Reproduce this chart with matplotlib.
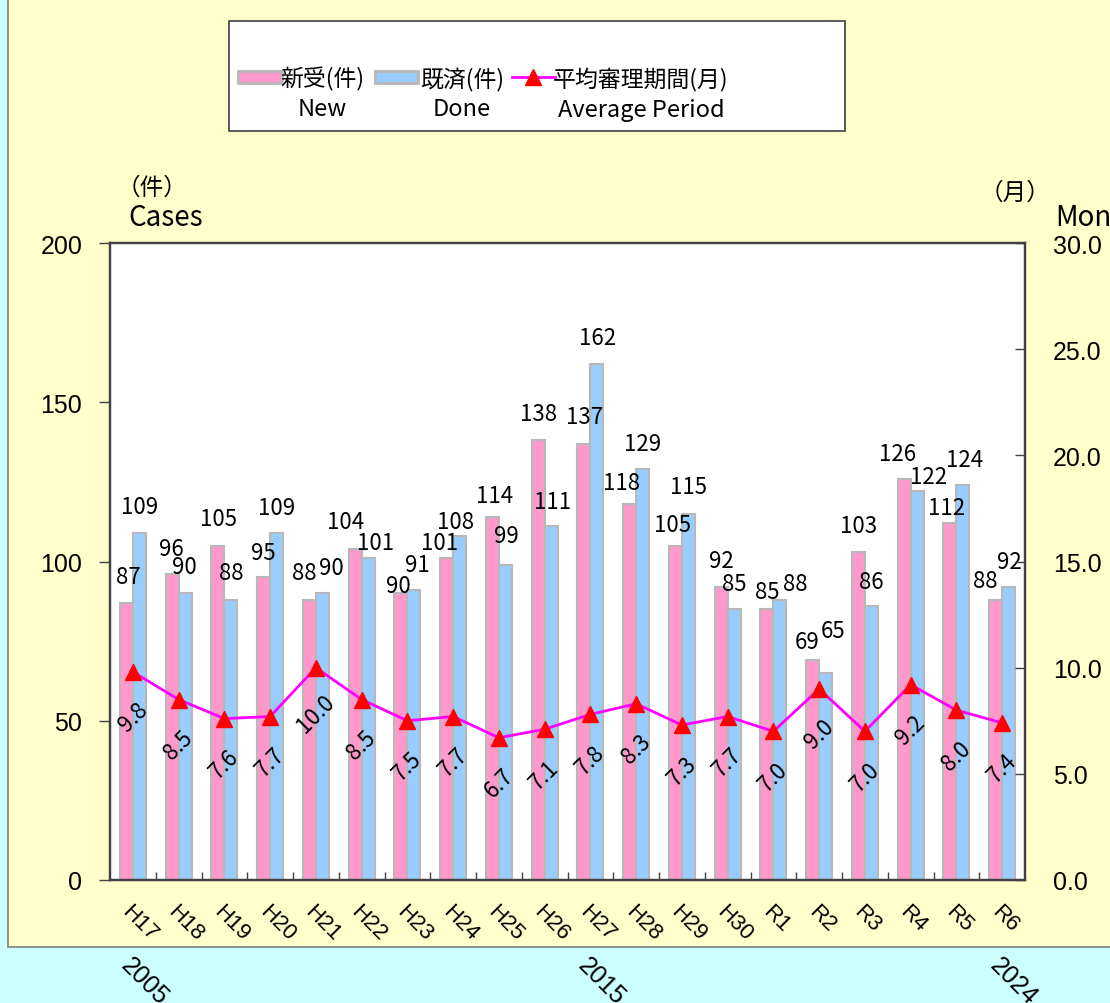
import matplotlib
matplotlib.use("Agg")
from matplotlib import pyplot as plt
from matplotlib.patches import Rectangle
from matplotlib.lines import Line2D
from matplotlib.ticker import FormatStrFormatter, FixedLocator
import numpy as np

years = ['H17', 'H18', 'H19', 'H20', 'H21', 'H22', 'H23', 'H24', 'H25', 'H26',
         'H27', 'H28', 'H29', 'H30', 'R1', 'R2', 'R3', 'R4', 'R5', 'R6']
new_cases = [87, 96, 105, 95, 88, 104, 90, 101, 114, 138,
             137, 118, 105, 92, 85, 69, 103, 126, 112, 88]
done_cases = [109, 90, 88, 109, 90, 101, 91, 108, 99, 111,
              162, 129, 115, 85, 88, 65, 86, 122, 124, 92]
avg_period = [9.8, 8.5, 7.6, 7.7, 10.0, 8.5, 7.5, 7.7, 6.7, 7.1,
              7.8, 8.3, 7.3, 7.7, 7.0, 9.0, 7.0, 9.2, 8.0, 7.4]
year_marks = [(0, '2005'), (10, '2015'), (19, '2024')]

# label nudges in pixels (dx, dy) so close labels don't collide, like the original
new_off = [(2, 26), (-1, 26), (1, 27), (0, 25), (-5, 27), (-9, 27), (-2, 8), (-7, 16),
           (2, 21), (0, 27), (1, 27), (-8, 22), (-3, 21), (0, 26), (0, 18), (-5, 19),
           (0, 26), (-7, 25), (-3, 16), (-10, 19)]
done_off = [(0, 26), (-1, 27), (0, 27), (0, 25), (9, 26), (7, 16), (3, 26), (-4, 15),
            (1, 29), (1, 25), (1, 27), (0, 26), (0, 27), (0, 26), (15, 16), (7, 42),
            (0, 25), (11, 15), (2, 26), (1, 25)]

W, H = 1110, 1004
JP = ['Noto Sans CJK JP', 'DejaVu Sans']
NUM = ['Liberation Sans', 'DejaVu Sans']
PINK = '#FF99CC'
BLUE = '#99CCFF'
EDGE = '#B8B8B8'


def fx(x):
    return x / W


def fy(y):
    return 1 - y / H


fig = plt.figure(figsize=(W / 100, H / 100), dpi=100)
fig.patch.set_facecolor('#CCFFFF')

# yellow panel behind the chart
panel = Rectangle((fx(8), fy(948)), 1.5, 1.5, transform=fig.transFigure,
                  facecolor='#FFFFCC', edgecolor='#7F7F7F', lw=1.2, zorder=-10)
fig.add_artist(panel)

ax = fig.add_axes([fx(110), fy(881), fx(1025) - fx(110), fy(244) - fy(881)])
ax.set_facecolor('white')
x = np.arange(len(years))
bw = 0.285
ax.bar(x - bw / 2, new_cases, bw, color=PINK, edgecolor=EDGE, lw=1.5, zorder=2)
ax.bar(x + bw / 2, done_cases, bw, color=BLUE, edgecolor=EDGE, lw=1.5, zorder=2)

for i in range(len(years)):
    ax.annotate(str(new_cases[i]), (x[i] - bw / 2, new_cases[i]), xytext=new_off[i],
                textcoords='offset pixels', ha='center', va='center',
                fontsize=16, family=JP, zorder=5)
    ax.annotate(str(done_cases[i]), (x[i] + bw / 2, done_cases[i]), xytext=done_off[i],
                textcoords='offset pixels', ha='center', va='center',
                fontsize=16, family=JP, zorder=5)

ax.set_xlim(-0.5, len(years) - 0.5)
ax.set_ylim(0, 200)
ax.set_yticks([0, 50, 100, 150, 200])
ax.tick_params(axis='y', direction='out', length=8, width=1, pad=12,
               labelsize=18, color='#404040')
for t in ax.get_yticklabels():
    t.set_family(NUM)
ax.set_xticks(x)
ax.set_xticklabels(years, rotation=-45, rotation_mode='anchor', ha='left', va='top',
                   fontsize=16, family=NUM)
ax.tick_params(axis='x', which='major', length=0, pad=15)
ax.xaxis.set_minor_locator(FixedLocator(np.arange(0.5, len(years) - 1, 1.0)))
ax.tick_params(axis='x', which='minor', direction='in', length=6, width=1, color='#404040')
for s in ax.spines.values():
    s.set_color('#404040')
    s.set_linewidth(1.6)

ax2 = ax.twinx()
ax2.plot(x, avg_period, color='#FF00FF', lw=2, marker='^', markersize=11,
         markerfacecolor='#FF0000', markeredgecolor='#FF0000', zorder=4)
for i in range(len(years)):
    ax2.annotate(f'{avg_period[i]:.1f}', (x[i], avg_period[i]), xytext=(0, -45),
                 textcoords='offset pixels', ha='center', va='center', rotation=45,
                 fontsize=16, family=JP, zorder=5)
ax2.set_ylim(0, 30)
ax2.set_yticks([0, 5, 10, 15, 20, 25, 30])
ax2.yaxis.set_major_formatter(FormatStrFormatter('%.1f'))
ax2.tick_params(axis='y', direction='in', length=7, width=1, pad=20,
                labelsize=18, color='#404040')
for t in ax2.get_yticklabels():
    t.set_family(NUM)
for s in ax2.spines.values():
    s.set_color('#404040')
    s.set_linewidth(1.6)

# axis titles
fig.text(fx(152), fy(188), '（件）', ha='center', va='center', fontsize=17, family=JP)
fig.text(fx(128), fy(218), 'Cases', ha='left', va='center', fontsize=20, family=JP)
fig.text(fx(1015), fy(193), '（月）', ha='center', va='center', fontsize=17, family=JP)
fig.text(fx(1055), fy(218), 'Months', ha='left', va='center', fontsize=20, family=JP)

# legend box
fig.add_artist(Rectangle((fx(229), fy(132)), fx(845) - fx(229), fy(22) - fy(132),
                         transform=fig.transFigure, facecolor='white',
                         edgecolor='#404040', lw=1.2, zorder=6))
fig.add_artist(Rectangle((fx(238), fy(84)), fx(44), 12 / H, transform=fig.transFigure,
                         facecolor=PINK, edgecolor=EDGE, lw=2, zorder=7))
fig.add_artist(Rectangle((fx(375), fy(84)), fx(43), 12 / H, transform=fig.transFigure,
                         facecolor=BLUE, edgecolor=EDGE, lw=2, zorder=7))
fig.add_artist(Line2D([fx(512), fx(555)], [fy(78), fy(78)], transform=fig.transFigure,
                      color='#FF00FF', lw=2, zorder=7))
fig.add_artist(Line2D([fx(533)], [fy(78)], transform=fig.transFigure, marker='^',
                      markersize=11, color='#FF0000', lw=0, zorder=8))
legend_items = [(322, '新受(件)', 'New'), (462, '既済(件)', 'Done'),
                (641, '平均審理期間(月)', 'Average Period')]
for cx, jp, en in legend_items:
    fig.text(fx(cx), fy(79), jp, ha='center', va='center', fontsize=16.5, family=JP, zorder=9)
    fig.text(fx(cx), fy(110), en, ha='center', va='center', fontsize=17, family=JP, zorder=9)

# calendar years below the panel
for i, yr in year_marks:
    px = 110 + (i + 0.5) * 915 / len(years)
    fig.text(fx(px), fy(954), yr, rotation=-45, rotation_mode='anchor',
             ha='left', va='top', fontsize=18, family=NUM)

fig.savefig('out.png', dpi=100, facecolor=fig.get_facecolor())
